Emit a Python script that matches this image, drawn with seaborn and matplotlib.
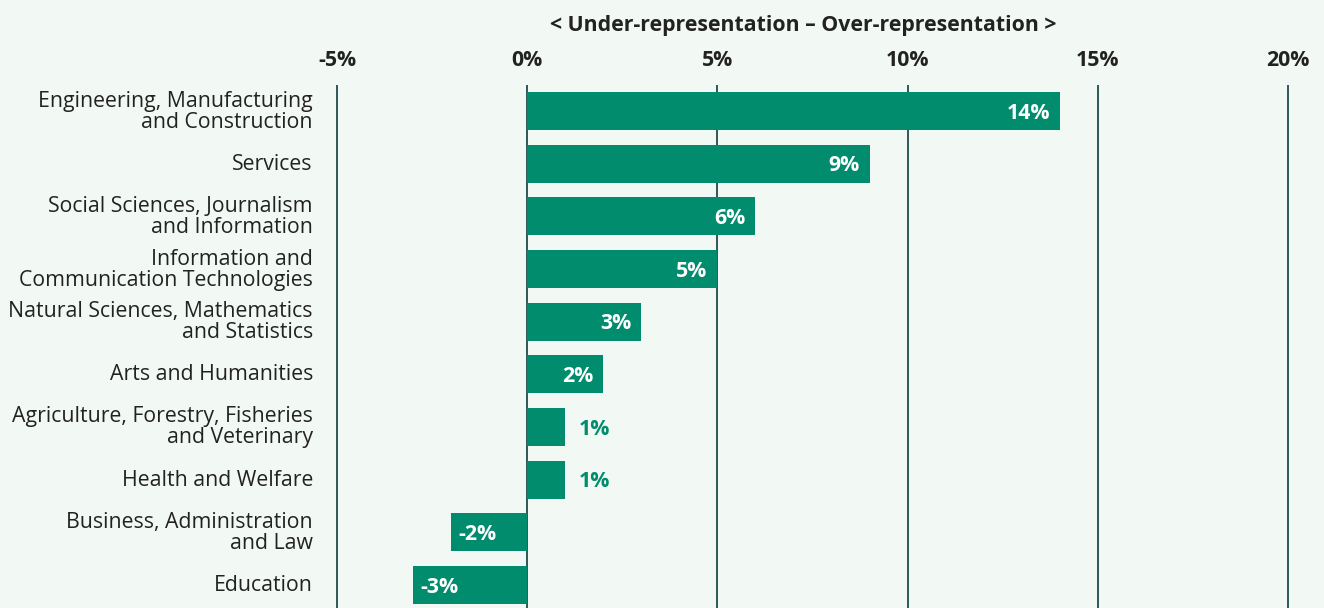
import matplotlib
matplotlib.use("Agg")
import matplotlib.pyplot as plt
import matplotlib.transforms as mtransforms
import seaborn as sns
import pandas as pd

categories = [
    "Engineering, Manufacturing\nand Construction",
    "Services",
    "Social Sciences, Journalism\nand Information",
    "Information and\nCommunication Technologies",
    "Natural Sciences, Mathematics\nand Statistics",
    "Arts and Humanities",
    "Agriculture, Forestry, Fisheries\nand Veterinary",
    "Health and Welfare",
    "Business, Administration\nand Law",
    "Education",
]
values = [14, 9, 6, 5, 3, 2, 1, 1, -2, -3]
tick_values = [-5, 0, 5, 10, 15, 20]
tick_labels = ["-5%", "0%", "5%", "10%", "15%", "20%"]
axis_title = "< Under-representation \u2013 Over-representation >"

BG = "#f2f8f4"
GREEN = "#028c6e"
GRID = "#1e4b4b"
TEXT = "#222222"
FS = 15.3

sns.set_theme(style="white")
plt.rcParams["font.family"] = ["Open Sans", "DejaVu Sans"]

df = pd.DataFrame({"field": categories, "share": values})

W, H = 1324, 608
fig = plt.figure(figsize=(W / 100, H / 100), dpi=100, facecolor=BG)

x0, x1 = -5.05, 20.05
px_per_unit = (1288 - 337) / 25
left_px = 337 - 0.05 * px_per_unit
right_px = 1288 + 0.05 * px_per_unit
top_px, bot_px = 84.7, 611.3
ax = fig.add_axes([left_px / W, (H - bot_px) / H,
                   (right_px - left_px) / W, (bot_px - top_px) / H])
ax.set_facecolor(BG)

for v in tick_values:
    ax.axvline(v, color=GRID, lw=1.3, zorder=0)

sns.barplot(data=df, x="share", y="field", orient="h", color=GREEN,
            width=0.72, saturation=1, linewidth=0, ax=ax, zorder=2)

ax.set_xlim(x0, x1)
ax.set_ylim(len(categories) - 0.5, -0.5)
ax.xaxis.tick_top()
ax.set_xticks(tick_values)
ax.set_xticklabels(tick_labels, fontsize=FS, fontweight="bold", color=TEXT)
ax.tick_params(axis="x", length=0, pad=10)
ax.tick_params(axis="y", length=0, pad=16)
lift = mtransforms.ScaledTranslation(0, 2 / 100, fig.dpi_scale_trans)
for lab in ax.get_yticklabels():
    lab.set_fontsize(FS)
    lab.set_color(TEXT)
    lab.set_linespacing(1.0)
    lab.set_transform(lab.get_transform() + lift)
ax.set_xlabel("")
ax.set_ylabel("")
for s in ax.spines.values():
    s.set_visible(False)

# value labels: inside the bar for wide bars, outside for narrow ones
for i, v in enumerate(values):
    txt = f"{v}%"
    if v >= 2:
        off, ha, col = (-7, -1.5), "right", "white"
    elif v > 0:
        off, ha, col = (10, -1.5), "left", GREEN
    else:
        off, ha, col = (5, -1.5), "left", "white"
    ax.annotate(txt, (v, i), xytext=off, textcoords="offset points",
                ha=ha, va="center", color=col, fontsize=FS,
                fontweight="bold", zorder=3)

fig.text(803.5 / W, 1 - 25 / H, axis_title, ha="center", va="center",
         fontsize=FS, fontweight="bold", color=TEXT)

fig.savefig("out.png", dpi=100, facecolor=BG)
